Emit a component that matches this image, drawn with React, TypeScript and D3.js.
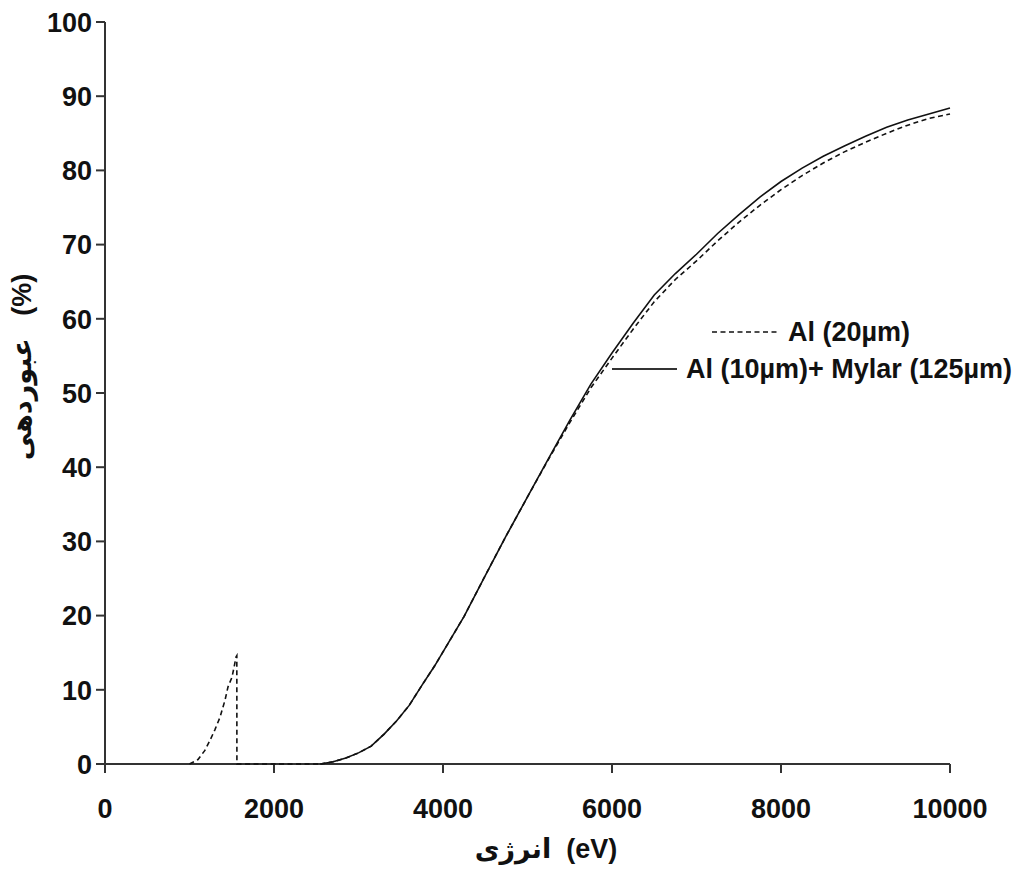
import React from "react";
import * as d3 from "d3";

// Energy (eV) and transmission (%)
const alPeakEnergy = [1000, 1100, 1180, 1243, 1300, 1361, 1420, 1456, 1503, 1530, 1550, 1560, 1561, 2000, 2550];
const alPeakValue = [0, 0.6, 1.8, 3.2, 4.6, 6.3, 8.6, 10.4, 11.7, 13.2, 14.4, 14.6, 0, 0, 0];

const energy = [2550, 2700, 2850, 3000, 3150, 3300, 3450, 3600, 3750, 3900, 4000, 4250, 4500, 4750, 5000, 5250, 5500, 5750, 6000, 6250, 6500, 6750, 7000, 7250, 7500, 7750, 8000, 8250, 8500, 8750, 9000, 9250, 9500, 9750, 10000];
const alMylar = [0, 0.3, 0.8, 1.5, 2.4, 4.0, 5.8, 7.9, 10.6, 13.2, 15.1, 19.9, 25.4, 30.8, 36.0, 41.2, 46.3, 51.2, 55.4, 59.4, 63.2, 66.1, 68.7, 71.5, 74.0, 76.4, 78.5, 80.3, 81.9, 83.3, 84.6, 85.8, 86.8, 87.6, 88.4];
const al20 = [0, 0.3, 0.8, 1.5, 2.4, 4.0, 5.8, 7.9, 10.6, 13.2, 15.1, 19.9, 25.4, 30.8, 36.0, 41.1, 46.0, 50.7, 54.7, 58.6, 62.3, 65.3, 67.8, 70.5, 73.0, 75.3, 77.4, 79.3, 81.0, 82.5, 83.8, 85.0, 86.1, 87.0, 87.6];

const xTicks = [0, 2000, 4000, 6000, 8000, 10000];
const yTicks = [0, 10, 20, 30, 40, 50, 60, 70, 80, 90, 100];

const legendLabels = ["Al (20µm)", "Al (10µm)+ Mylar (125µm)"];
const xTitle = "انرژی\u00a0\u00a0(eV)";
const yTitle = "عبوردهی\u00a0\u00a0\u00a0(%)";

const W = 1021;
const H = 874;
const FONT = "'Liberation Sans', Arial, 'DejaVu Sans', sans-serif";

export default function App() {
  const x = d3.scaleLinear().domain([0, 10000]).range([105, 950]);
  const y = d3.scaleLinear().domain([0, 100]).range([764, 22]);

  const line = d3
    .line<[number, number]>()
    .x((d) => x(d[0]))
    .y((d) => y(d[1]));

  const peakPts: [number, number][] = alPeakEnergy.map((e, i) => [e, alPeakValue[i]]);
  const al20Pts: [number, number][] = energy.map((e, i) => [e, al20[i]]);
  const mylarPts: [number, number][] = energy.map((e, i) => [e, alMylar[i]]);

  const dash = "5,3.5";
  const axisColor = "#333";
  const fs = 27;

  return (
    <svg
      width={W}
      height={H}
      style={{ position: "absolute", left: 0, top: 0, background: "#fff" }}
      fontFamily={FONT}
    >
      <rect x={0} y={0} width={W} height={H} fill="#fff" />
      {/* axes */}
      <line x1={x(0)} x2={x(0)} y1={y(100)} y2={y(0)} stroke={axisColor} strokeWidth={2} />
      <line x1={x(0)} x2={x(10000)} y1={y(0)} y2={y(0)} stroke={axisColor} strokeWidth={2} />
      {yTicks.map((t) => (
        <g key={"y" + t}>
          <line x1={x(0) - 9} x2={x(0)} y1={y(t)} y2={y(t)} stroke={axisColor} strokeWidth={2} />
          <text
            x={x(0) - 13}
            y={y(t)}
            dy="0.36em"
            textAnchor="end"
            fontSize={fs}
            fontWeight="bold"
            fill="#111"
          >
            {t}
          </text>
        </g>
      ))}
      {xTicks.map((t) => (
        <g key={"x" + t}>
          <line x1={x(t)} x2={x(t)} y1={y(0)} y2={y(0) + 9} stroke={axisColor} strokeWidth={2} />
          <text
            x={x(t)}
            y={818}
            textAnchor="middle"
            fontSize={fs}
            fontWeight="bold"
            fill="#111"
          >
            {t}
          </text>
        </g>
      ))}
      {/* data */}
      <path d={line(peakPts) || ""} fill="none" stroke="#111" strokeWidth={1.6} strokeDasharray={dash} />
      <path d={line(al20Pts) || ""} fill="none" stroke="#111" strokeWidth={1.6} strokeDasharray={dash} />
      <path d={line(mylarPts) || ""} fill="none" stroke="#111" strokeWidth={1.6} />
      {/* legend */}
      <line x1={712} x2={779} y1={332} y2={332} stroke="#111" strokeWidth={1.6} strokeDasharray={dash} />
      <text x={788} y={341} fontSize={fs} fontWeight="bold" fill="#111">
        {legendLabels[0]}
      </text>
      <line x1={612} x2={677} y1={369} y2={369} stroke="#333" strokeWidth={2} />
      <text x={686} y={378} fontSize={fs} fontWeight="bold" fill="#111">
        {legendLabels[1]}
      </text>
      {/* axis titles */}
      <text x={546} y={858} textAnchor="middle" fontSize={fs} fontWeight="bold" fill="#111">
        {xTitle}
      </text>
      <text
        transform={`translate(31,${367}) rotate(-90)`}
        textAnchor="middle"
        fontSize={fs}
        fontWeight="bold"
        fill="#111"
      >
        {yTitle}
      </text>
    </svg>
  );
}
